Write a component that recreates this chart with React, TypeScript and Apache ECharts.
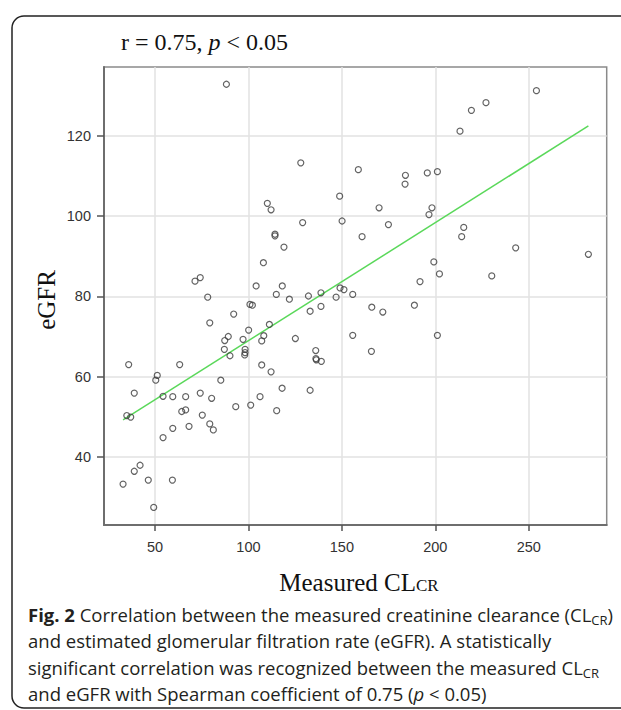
import React, { useEffect, useRef } from "react";
import * as echarts from "echarts";

// Measured creatinine clearance (CLcr) per patient
const clcr = [
  88.2, 128.0, 148.8, 110.1, 112.1, 129.0, 150.1, 114.2, 114.2, 119.0, 108.0,
  254.1, 227.1, 219.3, 213.2, 158.8, 184.0, 183.8, 195.7, 201.1, 169.9, 198.2,
  196.6, 174.9, 160.8, 215.2, 214.1, 243.0, 281.9, 199.2, 202.2, 230.2, 191.8,
  155.8, 166.0, 171.9, 188.8, 155.8, 201.1, 165.8,
  71.4, 74.2, 78.2, 79.3, 92.1, 104.1, 118.1, 114.9, 121.9, 132.1, 138.8, 133.0,
  138.8, 146.9, 149.0, 151.1, 100.8, 102.1, 111.2, 100.1, 108.2, 107.1, 97.1,
  87.3, 89.2, 87.1, 90.1, 98.2, 98.2, 98.0, 125.1, 107.1, 112.1, 136.0, 136.1,
  136.3, 139.0, 133.0, 118.0, 106.2, 115.1, 101.2, 93.2, 85.2, 80.3, 74.2, 75.3,
  79.3, 81.2, 68.2, 66.4, 64.3, 66.4, 59.5, 54.3, 63.2, 51.2, 50.4, 35.9, 38.9,
  34.9, 37.0, 54.3, 59.5, 42.0, 38.9, 32.9, 46.4, 59.3, 49.3,
];

// eGFR per patient (same order)
const egfr = [
  132.9, 113.3, 105.0, 103.2, 101.6, 98.4, 98.8, 95.5, 95.1, 92.3, 88.4,
  131.3, 128.3, 126.4, 121.2, 111.6, 110.2, 108.0, 110.8, 111.1, 102.1, 102.1,
  100.4, 97.9, 94.9, 97.2, 94.9, 92.1, 90.5, 88.6, 85.6, 85.1, 83.7,
  80.5, 77.3, 76.1, 77.8, 70.3, 70.3, 66.3,
  83.8, 84.7, 79.8, 73.4, 75.6, 82.6, 82.6, 80.5, 79.3, 80.1, 80.9, 76.3,
  77.5, 79.8, 82.1, 81.7, 78.0, 77.8, 73.0, 71.6, 70.2, 68.9, 69.3,
  69.0, 70.0, 66.8, 65.2, 66.8, 66.0, 65.4, 69.5, 62.9, 61.2, 66.5, 64.5,
  64.2, 63.8, 56.6, 57.1, 55.0, 51.5, 52.9, 52.5, 59.1, 54.6, 55.9, 50.4,
  48.2, 46.7, 47.6, 51.7, 51.3, 55.0, 55.0, 55.1, 63.0, 60.3, 59.1, 63.0, 55.9,
  50.3, 49.9, 44.8, 47.1, 37.9, 36.4, 33.2, 34.2, 34.2, 27.4,
];

// Fitted regression line end points
const fitX = [32.9, 281.9];
const fitY = [49.2, 122.5];

const xTicks = [50, 100, 150, 200, 250];
const yTicks = [40, 60, 80, 100, 120];

const titleText = "r = 0.75, {i|p} < 0.05";
const xName = "Measured CL";
const xNameSub = "CR";
const yName = "eGFR";
const captionLines = [
  "{b|Fig. 2} Correlation between the measured creatinine clearance (CL{s|CR})",
  "and estimated glomerular filtration rate (eGFR). A statistically",
  "significant correlation was recognized between the measured CL{s|CR}",
  "and eGFR with Spearman coefficient of 0.75 ({i|p} < 0.05)",
];

export default function App() {
  const ref = useRef<HTMLDivElement>(null);
  useEffect(() => {
    document.body.style.margin = "0";
    if (!ref.current) return;
    const chart = echarts.init(ref.current, null, { renderer: "svg" });
    const points = clcr.map((x, i) => [x, egfr[i]]);
    const fit = fitX.map((x, i) => [x, fitY[i]]);
    const serif = "'Liberation Serif', 'DejaVu Serif', serif";
    const sans = "'Liberation Sans', Arial, sans-serif";
    const capFont = "'Open Sans', 'Noto Sans', sans-serif";
    const capSize = 18.5;
    const capRich = {
      b: { fontWeight: "bold" as const, fontSize: capSize, fontFamily: capFont, color: "#231f20", verticalAlign: "bottom" as const },
      s: { fontSize: 13, fontFamily: capFont, color: "#231f20", verticalAlign: "bottom" as const, padding: [0, 0, -3, 0] },
      i: { fontStyle: "italic" as const, fontSize: capSize, fontFamily: capFont, color: "#231f20", verticalAlign: "bottom" as const },
    };
    chart.setOption({
      animation: false,
      backgroundColor: "#ffffff",
      grid: {
        left: 104,
        top: 67,
        right: 14.3,
        bottom: 185,
        show: true,
        borderColor: "#8a8a8a",
        borderWidth: 1.5,
        backgroundColor: "transparent",
      },
      xAxis: {
        type: "value",
        min: 22.7,
        max: 291.7,
        axisLine: { show: true, lineStyle: { color: "#6e6e6e", width: 2 } },
        axisTick: { show: true, length: 6, customValues: xTicks, lineStyle: { color: "#555", width: 1.5 } },
        axisLabel: { customValues: xTicks, margin: 14, color: "#333", fontSize: 14.5, fontFamily: sans },
        splitLine: { show: true, lineStyle: { color: "#e2e2e2", width: 1.5 } },
      },
      yAxis: {
        type: "value",
        min: 23,
        max: 137.2,
        axisLine: { show: true, lineStyle: { color: "#6e6e6e", width: 2 } },
        axisTick: { show: true, length: 7, customValues: yTicks, lineStyle: { color: "#555", width: 1.5 } },
        axisLabel: { customValues: yTicks, margin: 13, color: "#333", fontSize: 14.5, fontFamily: sans },
        splitLine: { show: true, lineStyle: { color: "#e2e2e2", width: 1.5 } },
      },
      series: [
        {
          type: "line",
          data: fit,
          symbol: "none",
          lineStyle: { color: "#5ad85a", width: 1.5 },
          z: 2,
        },
        {
          type: "scatter",
          data: points,
          symbol: "circle",
          symbolSize: 6,
          itemStyle: { color: "rgba(255,255,255,0)", borderColor: "#3c3c3c", borderWidth: 1.2 },
          z: 3,
        },
      ],
      graphic: [
        {
          type: "rect",
          shape: { x: 12, y: 16, width: 640, height: 692, r: 12 },
          style: { fill: "none", stroke: "#222", lineWidth: 1.5 },
          z: 0,
        },
        {
          type: "text",
          x: 121,
          y: 42,
          style: {
            text: titleText,
            fontFamily: serif,
            fontSize: 24,
            fill: "#111",
            verticalAlign: "middle",
            rich: { i: { fontStyle: "italic", fontFamily: serif, fontSize: 24, fill: "#111" } },
          },
        },
        {
          type: "text",
          x: 46,
          y: 300,
          rotation: Math.PI / 2,
          style: {
            text: yName,
            fontFamily: serif,
            fontSize: 25,
            fill: "#111",
            align: "center",
            verticalAlign: "middle",
          },
        },
        {
          type: "text",
          x: 359,
          y: 582,
          style: {
            text: xName + "{c|" + xNameSub + "}",
            fontFamily: serif,
            fontSize: 25,
            fill: "#111",
            align: "center",
            verticalAlign: "middle",
            rich: { c: { fontFamily: serif, fontSize: 17, fill: "#111", verticalAlign: "bottom", padding: [0, 0, 1, 0] } },
          },
        },
        ...captionLines.map((line, i) => ({
          type: "text",
          x: 28,
          y: 614 + i * 26.5,
          style: {
            text: line,
            fontFamily: capFont,
            fontSize: capSize,
            fill: "#231f20",
            verticalAlign: "middle",
            rich: capRich,
          },
        })),
      ],
    });
    return () => chart.dispose();
  }, []);
  return <div ref={ref} style={{ width: 621, height: 710 }} />;
}
